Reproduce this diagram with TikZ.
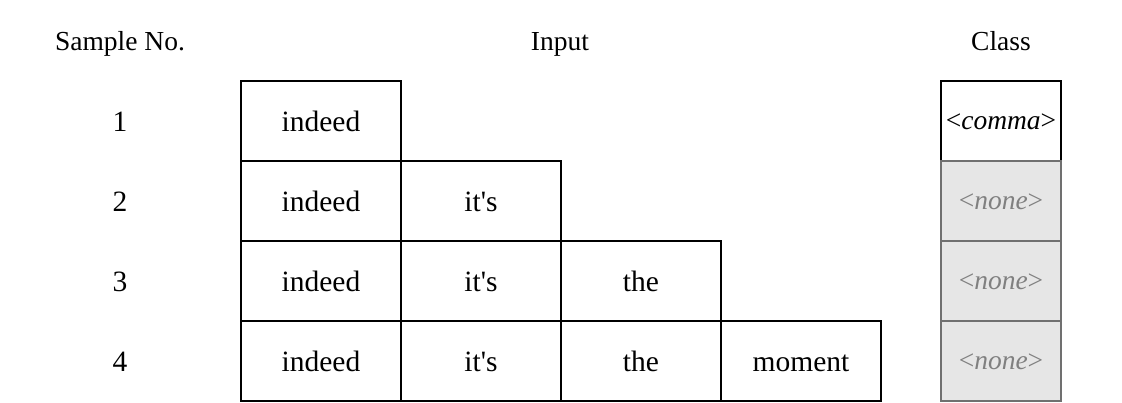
\documentclass[tikz,border=0pt]{standalone}
\usepackage{fontspec}
\setmainfont{Liberation Serif}[Ligatures=TeXOff]
\definecolor{boxgrey}{HTML}{E6E6E6}
\definecolor{edgegrey}{HTML}{707070}
\definecolor{textgrey}{HTML}{808080}
\begin{document}
\begin{tikzpicture}[x=1pt,y=-1pt,
  head/.style={font=\fontsize{27.5}{30}\selectfont, inner sep=0pt, text height=22pt, text depth=2pt},
  txt/.style={font=\fontsize{29.5}{32}\selectfont, inner sep=0pt, text height=22pt, text depth=2pt},
  cell/.style={txt, draw=black, line width=2pt, minimum width=160pt, minimum height=80pt},
  clsw/.style={cell, font=\fontsize{27.5}{30}\selectfont, text height=19pt, text depth=3pt, minimum width=120pt},
  clsg/.style={clsw, draw=edgegrey, fill=boxgrey, text=textgrey}]
\useasboundingbox (0,0) rectangle (1122,402);
% headers
\node[head] (hs) at (120,40) {Sample No.};
\node[head] (hi) at (560,40) {Input};
\node[head] (hc) at (1001,40) {Class};
% row numbers
\node[txt] (n1) at (120,121) {1};
\node[txt] (n2) at (120,201) {2};
\node[txt] (n3) at (120,281) {3};
\node[txt] (n4) at (120,361) {4};
% input cells
\node[cell] (a1) at (321,121) {indeed};
\node[cell] (a2) at (321,201) {indeed};
\node[cell] (b2) at (481,201) {it's};
\node[cell] (a3) at (321,281) {indeed};
\node[cell] (b3) at (481,281) {it's};
\node[cell] (c3) at (641,281) {the};
\node[cell] (a4) at (321,361) {indeed};
\node[cell] (b4) at (481,361) {it's};
\node[cell] (c4) at (641,361) {the};
\node[cell] (d4) at (801,361) {moment};
% class cells
\node[clsw] (k1) at (1001,121) {<\textit{comma}>};
\node[clsg] (k2) at (1001,201) {<\textit{none}>};
\node[clsg] (k3) at (1001,281) {<\textit{none}>};
\node[clsg] (k4) at (1001,361) {<\textit{none}>};
\end{tikzpicture}
\end{document}
